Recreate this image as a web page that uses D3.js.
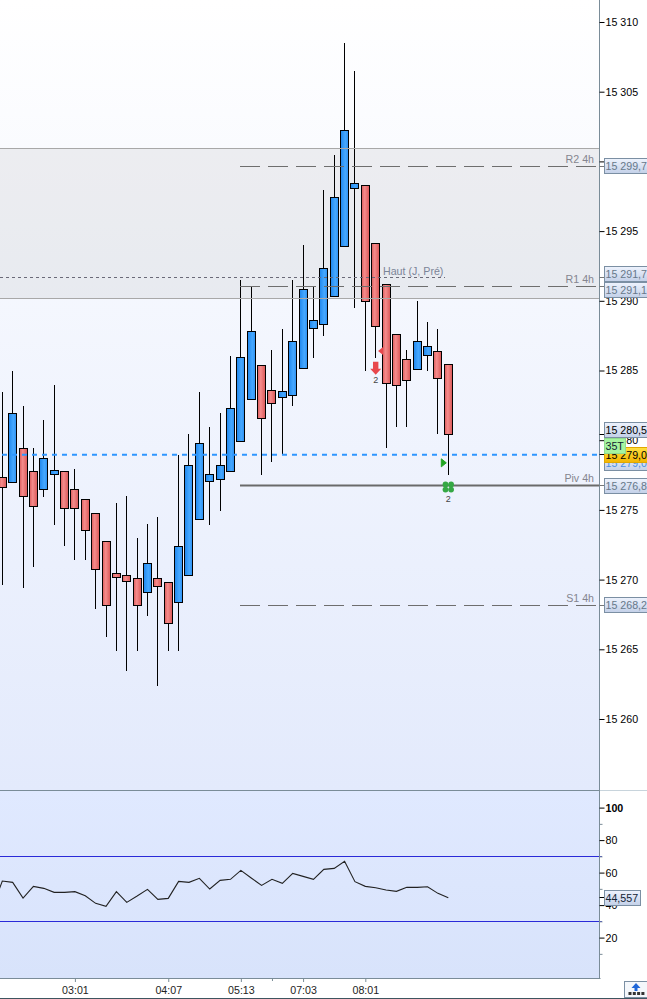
<!DOCTYPE html>
<html>
<head>
<meta charset="utf-8">
<script src="https://cdn.jsdelivr.net/npm/d3@7"></script>
<style>
    html, body { margin: 0; padding: 0; background: #fff; overflow: hidden; }
    svg { display: block; font-family: "Liberation Sans", Arial, sans-serif; font-size: 10.67px; }
</style>
</head>
<body>
<svg id="chart" width="647" height="999"></svg>
<script>
// candles, oldest on the left
const opens = [15277.36,15277.00,15279.44,15277.72,15276.47,15277.55,15277.72,15276.43,15275.78,15274.71,15272.70,15270.41,15270.27,15270.05,15269.02,15270.05,15269.76,15268.30,15270.31,15274.25,15277.00,15277.22,15277.72,15279.94,15282.95,15285.39,15283.53,15283.03,15283.21,15285.18,15288.04,15288.33,15290.34,15293.92,15298.08,15298.29,15294.14,15291.20,15287.61,15285.82,15285.10,15286.11,15286.39,15285.46];
const highs = [15283.46,15284.98,15282.47,15279.46,15281.47,15283.98,15277.72,15277.96,15275.78,15274.71,15272.70,15275.50,15276.02,15273.01,15274.01,15274.52,15269.76,15278.96,15280.47,15283.48,15280.97,15281.97,15286.01,15291.51,15291.03,15285.39,15286.49,15287.99,15291.51,15294.01,15291.03,15297.96,15300.47,15308.47,15306.49,15298.29,15294.14,15291.20,15287.61,15286.49,15290.00,15288.49,15287.99,15285.46];
const lows = [15269.64,15277.00,15269.43,15270.93,15275.95,15273.94,15272.44,15271.43,15271.43,15267.92,15265.91,15264.91,15263.41,15264.91,15267.42,15262.40,15264.91,15264.91,15270.31,15274.25,15273.94,15274.95,15277.72,15279.94,15282.95,15277.48,15278.41,15278.96,15282.42,15285.18,15285.91,15287.44,15290.34,15293.92,15289.45,15284.93,15285.91,15279.41,15280.92,15280.92,15285.10,15284.93,15280.42,15277.48];
const closes = [15276.65,15281.95,15275.97,15275.18,15278.72,15277.86,15275.04,15275.04,15273.53,15270.67,15268.09,15270.09,15269.81,15268.09,15271.13,15269.45,15266.80,15272.34,15278.22,15279.73,15277.51,15278.22,15282.24,15285.96,15287.83,15281.59,15282.59,15283.46,15287.11,15290.84,15288.62,15292.34,15297.43,15302.24,15298.44,15289.98,15288.19,15284.10,15283.96,15284.32,15287.11,15286.75,15284.46,15280.44];

// rsi, first value belongs to the candle just off the left edge
const rsiValues = [37.6,54.82,54.0,44.36,51.54,50.31,47.85,47.85,48.26,45.79,41.08,39.23,48.26,41.69,45.59,49.69,43.54,44.15,54.62,54.0,56.46,49.9,55.23,55.85,61.38,56.67,52.15,55.85,53.38,59.54,57.69,55.85,62.0,62.62,66.92,54.41,51.54,50.72,49.28,48.46,50.92,50.92,51.33,47.23,44.56];

const priceTicks = [15310,15305,15300,15295,15290,15285,15280,15275,15270,15265,15260];
const rsiTicks = [100,80,60,40,20];
const rsiMinorTicks = [90,70,50,30,10];
const rsiBands = [70,30];
const timeIndex = [7,16,23,29,35];
const timeLabels = ["03:01","04:07","05:13","07:03","08:01"];
const timeMinorIndex = [26];

const zoneTop = 15300.9, zoneBottom = 15290.2;
const levelNames = ["R2 4h","R1 4h","S1 4h"];
const levelValues = [15299.65,15291.04,15268.16];
const pivotValue = 15276.75, haut = 15291.7, lastPrice = 15278.95;

const svg = d3.select("#chart");
const axisX = 599.5, mainBottom = 790, rsiBottom = 978;

const x = d3.scaleLinear().domain([0,43]).range([2.3,448.3]);
const y = d3.scaleLinear().domain([15310,15260]).range([22,719]);
const yRsi = d3.scaleLinear().domain([100,0]).range([807.6,970.1]);
const snap = v => Math.floor(v) + .5;

// gradients
const defs = svg.append("defs");
function gradient(id, stops, horizontal) {
    const g = defs.append("linearGradient").attr("id", id)
        .attr("x1", 0).attr("y1", 0)
        .attr("x2", horizontal ? 1 : 0).attr("y2", horizontal ? 0 : 1);
    stops.forEach(s => g.append("stop").attr("offset", s[0]).attr("stop-color", s[1]));
}
gradient("mainBg", [[0,"#ffffff"],[1,"#e3eafc"]]);
gradient("rsiBg", [[0,"#e0e9ff"],[1,"#d8e3fb"]]);
gradient("blueBody", [[0,"#1f86ec"],[.6,"#46a8ff"],[1,"#2d90f2"]], true);
gradient("redBody", [[0,"#dc5c5c"],[.4,"#f58c8c"],[1,"#d95656"]], true);
gradient("tagBg", [[0,"#eef3fd"],[1,"#c3d0e8"]]);
gradient("tagYellow", [[0,"#ffe040"],[1,"#f3b400"]]);

// panels
svg.append("rect").attr("width", axisX).attr("height", mainBottom).attr("fill", "url(#mainBg)");
svg.append("rect").attr("y", mainBottom).attr("width", axisX).attr("height", rsiBottom - mainBottom).attr("fill", "url(#rsiBg)");
svg.append("rect").attr("y", y(zoneTop)).attr("width", axisX).attr("height", y(zoneBottom) - y(zoneTop))
    .attr("fill", "#a0a0a0").attr("opacity", .15);

// candles
const idx = d3.range(opens.length);
const candles = svg.append("g").attr("shape-rendering", "crispEdges");
candles.selectAll("line").data(idx).join("line")
    .attr("x1", i => snap(x(i))).attr("x2", i => snap(x(i)))
    .attr("y1", i => y(highs[i])).attr("y2", i => y(lows[i]))
    .attr("stroke", "#000");
candles.selectAll("rect").data(idx).join("rect")
    .attr("x", i => snap(x(i)) - 4)
    .attr("width", 8)
    .attr("y", i => snap(y(Math.max(opens[i], closes[i]))))
    .attr("height", i => Math.round(Math.abs(y(opens[i]) - y(closes[i]))))
    .attr("fill", i => closes[i] >= opens[i] ? "url(#blueBody)" : "url(#redBody)")
    .attr("stroke", "#000");

// zone borders
svg.append("g").selectAll("line").data([zoneTop, zoneBottom]).join("line")
    .attr("x1", 0).attr("x2", axisX)
    .attr("y1", d => snap(y(d))).attr("y2", d => snap(y(d)))
    .attr("stroke", "#a8a8a8");

// pivots
svg.append("g").selectAll("line").data(levelValues).join("line")
    .attr("x1", 240).attr("x2", 597)
    .attr("y1", d => snap(y(d))).attr("y2", d => snap(y(d)))
    .attr("stroke", "#6e6e6e").attr("stroke-dasharray", "20 8");
svg.append("line").attr("x1", 240).attr("x2", axisX)
    .attr("y1", y(pivotValue)).attr("y2", y(pivotValue))
    .attr("stroke", "#6a6a6a").attr("stroke-width", 2);
svg.append("line").attr("x1", 0).attr("x2", 445)
    .attr("y1", snap(y(haut))).attr("y2", snap(y(haut)))
    .attr("stroke", "#6a6a78").attr("stroke-dasharray", "3 3");
svg.append("line").attr("x1", 2).attr("x2", axisX)
    .attr("y1", y(lastPrice)).attr("y2", y(lastPrice))
    .attr("stroke", "#2f96ff").attr("stroke-width", 2).attr("stroke-dasharray", "5 5");

// level names
svg.append("g").selectAll("text").data(levelNames.concat(["Piv 4h"])).join("text")
    .attr("x", 594).attr("text-anchor", "end").attr("fill", "#85858f")
    .attr("y", (d, i) => (i < 3 ? y(levelValues[i]) : y(pivotValue)) - 3.5)
    .text(d => d);
svg.append("text").attr("x", 383).attr("y", y(haut) - 2.5).attr("fill", "#7c8598").text("Haut (J, Pré)");

// trade markers
const markers = svg.append("g");
const mx = x(36), gx = x(43);
markers.append("path").attr("transform", `translate(${mx},${y(lows[36]) + 4})`)
    .attr("d", "M-2.7,0H2.7V7H5.5L0,13L-5.5,7H-2.7Z").attr("fill", "#e8474c");
markers.append("text").attr("x", mx).attr("y", y(lows[36]) + 25).attr("text-anchor", "middle")
    .attr("font-size", 9).attr("fill", "#444").text("2");
markers.append("path").attr("transform", `translate(${x(37) - 3},${y(closes[39]) - 29})`)
    .attr("d", "M-5,0L0,-4V4Z").attr("fill", "#e8474c");
markers.append("path").attr("transform", `translate(${gx - 7},${y(lastPrice) + 8})`)
    .attr("d", "M0,-4L5,0L0,4Z").attr("fill", "#22a522").attr("stroke", "#22a522");
const clover = markers.append("g").attr("transform", `translate(${gx},${y(pivotValue) + 1.5})`).attr("fill", "#35a845");
clover.selectAll("circle").data([[-1,-1],[1,-1],[-1,1],[1,1]]).join("circle")
    .attr("cx", d => d[0] * 2.8).attr("cy", d => d[1] * 2.6).attr("r", 2.9);
markers.append("text").attr("x", gx).attr("y", y(pivotValue) + 16.5).attr("text-anchor", "middle")
    .attr("font-size", 9).attr("fill", "#444").text("2");

// rsi
svg.append("g").selectAll("line").data(rsiBands).join("line")
    .attr("x1", 0).attr("x2", 602)
    .attr("y1", d => snap(yRsi(d))).attr("y2", d => snap(yRsi(d)))
    .attr("stroke", "#2a2ad8");
svg.append("path").datum(rsiValues)
    .attr("d", d3.line().x((d, i) => x(i - 1)).y(d => yRsi(d)))
    .attr("fill", "none").attr("stroke", "#222").attr("stroke-width", 1.1);

// frame lines
const frame = "#7a8c98";
svg.append("line").attr("x1", 0).attr("x2", axisX + 1).attr("y1", mainBottom + .5).attr("y2", mainBottom + .5).attr("stroke", frame);
svg.append("line").attr("x1", axisX).attr("x2", 647).attr("y1", mainBottom + .5).attr("y2", mainBottom + .5).attr("stroke", "#c8d4dc");
svg.append("line").attr("x1", 0).attr("x2", axisX + 1).attr("y1", rsiBottom + .5).attr("y2", rsiBottom + .5).attr("stroke", frame);
svg.append("line").attr("x1", axisX).attr("x2", axisX).attr("y1", 0).attr("y2", rsiBottom).attr("stroke", frame);
svg.append("line").attr("x1", 0).attr("x2", 647).attr("y1", 998.5).attr("y2", 998.5).attr("stroke", "#3e5560");

// axes, the 15 300 label sits fully behind the R2 tag so it is left out
const spaced = d => d === 15300 ? "" : d3.format("d")(d).replace(/^(\d+)(\d{3})$/, "$1 $2");
function styleAxis(g) {
    g.select(".domain").remove();
    g.selectAll("text").attr("font-family", "Liberation Sans, Arial, sans-serif").attr("font-size", 10.67).attr("fill", "#000");
}
svg.append("g").attr("transform", `translate(${axisX},0)`)
    .call(d3.axisRight(y).tickValues(priceTicks).tickSize(5).tickPadding(1).tickFormat(spaced))
    .call(styleAxis);
svg.append("g").attr("transform", `translate(${axisX},0)`)
    .call(d3.axisRight(yRsi).tickValues(rsiMinorTicks).tickSize(3).tickFormat(""))
    .call(styleAxis).selectAll("line").attr("stroke", frame);
svg.append("g").attr("transform", `translate(${axisX},0)`)
    .call(d3.axisRight(yRsi).tickValues(rsiTicks).tickSize(5).tickPadding(1))
    .call(styleAxis)
    .selectAll("text").attr("font-weight", d => d === 100 ? "bold" : "normal");
svg.append("g").attr("transform", `translate(0,${rsiBottom})`)
    .call(d3.axisBottom(x).tickValues(timeIndex).tickSize(4).tickPadding(4).tickFormat((d, i) => timeLabels[i]))
    .call(styleAxis)
    .call(g => g.selectAll("line").attr("stroke", frame))
    .call(g => g.selectAll("text").attr("fill", "#222"));
svg.append("g").attr("transform", `translate(0,${rsiBottom})`)
    .call(d3.axisBottom(x).tickValues(timeMinorIndex).tickSize(3).tickFormat(""))
    .call(styleAxis).selectAll("line").attr("stroke", frame);

// value tags on the right, nudged apart where they collide
const tags = [
    { text: "15 299,7", v: y(levelValues[0]), dy: 0,    tick: "#777", color: "#66788a" },
    { text: "15 291,7", v: y(haut),           dy: -3,   tick: "#777", color: "#66788a" },
    { text: "15 291,1", v: y(levelValues[1]), dy: 4,    tick: "#777", color: "#66788a" },
    { text: "15 280,5", v: y(closes[43]),     dy: -4,   tick: "#000", color: "#000" },
    { text: "15 279,0", v: y(lastPrice),      dy: 8,    tick: "#2f96ff", color: "#4a8fe0" },
    { text: "15 279,0", v: y(lastPrice),      dy: 0,    tick: "#000", color: "#000", fill: "url(#tagYellow)", border: "#e0a800" },
    { text: "35T",      v: y(lastPrice),      dy: -9,   tick: "none", color: "#123", fill: "#a6f5a0", border: "#8fdc8f", w: 21 },
    { text: "15 276,8", v: y(pivotValue),     dy: 0,    tick: "#777", color: "#66788a" },
    { text: "15 268,2", v: y(levelValues[2]), dy: 0,    tick: "#777", color: "#66788a" },
    { text: "44,557",   v: yRsi(44.557),      dy: 0,    tick: "#000", color: "#123", w: 36 }
];
const tagG = svg.append("g").selectAll("g").data(tags).join("g");
tagG.append("line").attr("x1", axisX).attr("x2", 604)
    .attr("y1", d => snap(d.v)).attr("y2", d => snap(d.v)).attr("stroke", d => d.tick);
tagG.append("rect").attr("x", 604.5).attr("width", d => d.w || 44)
    .attr("y", d => Math.round(d.v + d.dy) - 7.5).attr("height", 15)
    .attr("fill", d => d.fill || "url(#tagBg)")
    .attr("stroke", d => d.border || "#7b8fa3");
tagG.append("text").attr("x", 605.5).attr("y", d => Math.round(d.v + d.dy) + 4)
    .attr("fill", d => d.color).text(d => d.text);

// panel button bottom right
const btn = svg.append("g").attr("transform", "translate(624.5,981.5)");
btn.append("rect").attr("width", 24).attr("height", 16).attr("fill", "#f4f7fb").attr("stroke", "#7b8fa3");
btn.append("path").attr("d", "M10,6.5V9.5H13V6.5H16L11.5,1.5L7,6.5Z").attr("fill", "#1f66d8");
btn.selectAll("rect.cell").data(d3.range(4)).join("rect").attr("class", "cell")
    .attr("x", i => 4 + i * 4.3).attr("y", 10.5).attr("width", 3).attr("height", 3).attr("fill", "#333");
</script>
</body>
</html>
